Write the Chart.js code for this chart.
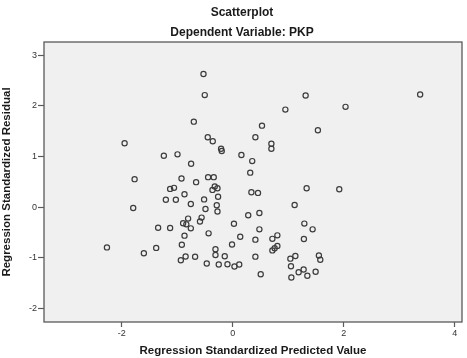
<!DOCTYPE html>
<html><head><meta charset="utf-8">
<script src="https://cdn.jsdelivr.net/npm/chart.js@4/dist/chart.umd.min.js"></script>
<style>html,body{margin:0;padding:0;background:#fff}#wrap{width:467px;height:358px}</style>
</head><body><div id="wrap"><canvas id="c" width="467" height="358"></canvas></div>
<script>
const chartTitle = "Scatterplot";
const chartSubtitle = "Dependent Variable: PKP";
const xTitle = "Regression Standardized Predicted Value";
const yTitle = "Regression Standardized Residual";
const xTicks = [-2, 0, 2, 4];
const yTicks = [-2, -1, 0, 1, 2, 3];
const predicted = [-0.527,-0.504,-0.701,-0.450,-0.360,-0.210,-0.198,0.156,-1.948,-1.241,-0.995,-0.750,-1.768,-0.923,-0.660,-0.444,-0.342,0.351,0.315,-1.128,-1.058,-0.365,-0.324,-0.275,1.313,3.376,0.948,2.032,0.527,1.534,0.408,0.696,0.696,0.336,0.455,1.331,1.919,1.115,0.279,0.480,1.290,1.439,0.480,0.135,0.408,0.714,0.804,1.282,0.714,0.755,0.804,0.408,1.038,1.128,1.552,1.577,1.049,0.117,0.504,1.187,1.277,1.493,1.056,1.344,-0.869,-1.205,-1.025,-0.755,-0.516,-0.264,-1.793,-0.491,-0.288,-0.275,-0.804,-0.894,-0.836,-0.561,-0.590,-0.755,-1.344,-1.128,-0.869,-0.435,0.022,-0.013,-0.917,-2.266,-1.379,-1.601,-0.311,-0.311,-0.144,-0.849,-0.935,-0.678,-0.468,-0.252,-0.095,0.031];
const residual = [2.627,2.211,1.687,1.378,1.299,1.152,1.106,1.027,1.259,1.013,1.041,0.854,0.551,0.565,0.492,0.591,0.591,0.908,0.680,0.359,0.379,0.339,0.406,0.373,2.203,2.222,1.925,1.979,1.608,1.517,1.378,1.251,1.152,0.293,0.280,0.373,0.353,0.042,-0.163,-0.117,-0.327,-0.440,-0.440,-0.585,-0.644,-0.628,-0.559,-0.632,-0.856,-0.813,-0.767,-0.979,-1.019,-0.966,-0.956,-1.041,-1.168,-1.134,-1.326,-1.287,-1.233,-1.279,-1.392,-1.358,0.254,0.145,0.145,0.061,0.151,0.204,-0.018,-0.038,0.036,-0.089,-0.228,-0.321,-0.341,-0.208,-0.285,-0.420,-0.410,-0.414,-0.565,-0.519,-0.331,-0.738,-0.743,-0.797,-0.807,-0.912,-0.833,-0.946,-0.971,-0.975,-1.051,-0.981,-1.114,-1.134,-1.128,-1.174];

const points = predicted.map((x, i) => ({x: x, y: residual[i]}));
const FONT = "'Liberation Sans', Arial, sans-serif";

const framePlugin = {
  id: 'frame',
  beforeDatasetsDraw(chart) {
    const {ctx, chartArea: a} = chart;
    ctx.save();
    ctx.fillStyle = '#f0f0f0';
    ctx.fillRect(a.left, a.top, a.right - a.left, a.bottom - a.top);
    ctx.restore();
  },
  afterDraw(chart) {
    const {ctx, chartArea: a} = chart;
    ctx.save();
    ctx.strokeStyle = '#5a5a5a';
    ctx.lineWidth = 1.3;
    ctx.strokeRect(a.left, a.top, a.right - a.left, a.bottom - a.top);
    ctx.fillStyle = '#1a1a1a';
    ctx.textAlign = 'center';
    ctx.textBaseline = 'middle';
    ctx.font = "bold 12px " + FONT;
    ctx.fillText(chartTitle, 242, 13);
    ctx.fillText(chartSubtitle, 242, 33);
    ctx.restore();
  }
};

new Chart(document.getElementById('c'), {
  type: 'scatter',
  data: {
    datasets: [{
      data: points,
      pointStyle: 'circle',
      pointRadius: 2.6,
      pointHoverRadius: 2.6,
      pointBorderWidth: 1.2,
      pointBorderColor: '#3c3c3c',
      pointBackgroundColor: 'rgba(0,0,0,0)'
    }]
  },
  options: {
    responsive: false,
    animation: false,
    devicePixelRatio: 1,
    layout: {padding: {top: 42, right: 5, left: 0, bottom: 0}},
    plugins: {legend: {display: false}, tooltip: {enabled: false}, title: {display: false}},
    scales: {
      x: {
        type: 'linear',
        min: -3.4, max: 4.13,
        afterBuildTicks: (s) => { s.ticks = xTicks.map(v => ({value: v})); },
        afterFit: (s) => { s.height = 36; },
        grid: {drawOnChartArea: false, tickLength: 5, tickColor: '#5a5a5a', tickWidth: 1.2},
        border: {display: false},
        ticks: {color: '#333', font: {family: FONT, size: 9}, padding: 1, maxRotation: 0},
        title: {display: true, text: xTitle, color: '#1a1a1a', font: {family: FONT, size: 11.5, weight: 'bold'}, padding: {top: 0, bottom: 0}}
      },
      y: {
        type: 'linear',
        min: -2.27, max: 3.26,
        afterBuildTicks: (s) => { s.ticks = yTicks.map(v => ({value: v})); },
        afterFit: (s) => { s.width = 44; },
        grid: {drawOnChartArea: false, tickLength: 6, tickColor: '#5a5a5a', tickWidth: 1.2},
        border: {display: false},
        ticks: {color: '#333', font: {family: FONT, size: 9}, padding: 1},
        title: {display: true, text: yTitle, color: '#1a1a1a', font: {family: FONT, size: 11.5, weight: 'bold'}, padding: {top: 0, bottom: 0}}
      }
    }
  },
  plugins: [framePlugin]
});
</script>
</body></html>
